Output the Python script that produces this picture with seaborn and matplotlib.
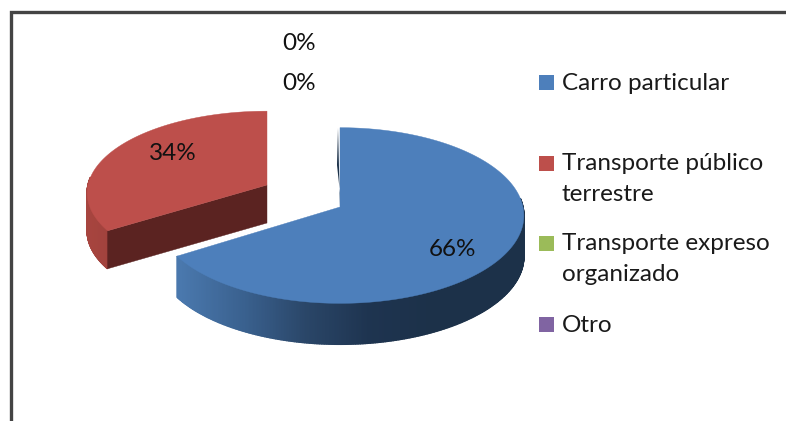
import numpy as np
import seaborn as sns
import matplotlib.pyplot as plt
from matplotlib.patches import Polygon, Rectangle

categories = ['Carro particular', 'Transporte público\nterrestre', 'Transporte expreso\norganizado', 'Otro']
values = [66, 34, 0, 0]
labels = ['66%', '34%', '0%', '0%']
label_pos = [(452, 250), (173, 153), (299, 84), (299, 44)]
legend_y = [82, 163, 243, 324]

sns.set_theme(style='white')
plt.rcParams['font.family'] = ['Lato', 'DejaVu Sans']
palette = sns.color_palette(['#4d7fbb', '#bd4f4b', '#9bbb59', '#8064a2'])
blue_wall = sns.blend_palette(['#4a78ad', '#3a618f', '#2a4668', '#1e3450', '#1c3149'], 256)
red_wall = sns.blend_palette(['#a8453f', '#a0423d'], 256)

fig = plt.figure(figsize=(7.86, 4.21), dpi=100)
ax = fig.add_axes([0, 0, 1, 1])
ax.set_xlim(0, 786)
ax.set_ylim(421, 0)
ax.axis('off')

K = 0.097


def rim(theta, apex, a, b):
    # perspective view of the unit circle, theta clockwise from 12 o'clock
    u, v = np.sin(theta), np.cos(theta)
    w = 1 + K * v
    return np.column_stack([apex[0] + b * u / w, apex[1] - a * v / w])


def draw_slice(start, end, apex, a, b, depth, color, wall_colors, wall_x, cut_color):
    th = np.linspace(start, end, 500)
    pts = rim(th, apex, a, b)
    # outer wall, strip by strip for the shading
    for i in range(len(th) - 1):
        if np.cos((th[i] + th[i + 1]) / 2) > 0.1:
            continue
        p = pts[i:i + 2]
        q = p + [0, depth]
        t = np.clip((p[:, 0].mean() - wall_x[0]) / (wall_x[1] - wall_x[0]), 0, 1)
        c = wall_colors[int(t * (len(wall_colors) - 1))]
        ax.add_patch(Polygon(np.vstack([p, q[::-1]]), fc=c, ec=c, lw=1.0, zorder=2))
    if cut_color is not None:
        cut = pts[0]
        ax.add_patch(Polygon([apex, cut, cut + [0, depth], (apex[0], apex[1] + depth)],
                             fc=cut_color, ec=cut_color, lw=0.3, zorder=3))
    ax.add_patch(Polygon(np.vstack([[apex], pts]), fc=color, ec=color, lw=0.3, zorder=4))


fracs = np.cumsum([0] + values) / sum(values) * 2 * np.pi

# inner sliver of the blue slice, seen behind its first edge
ax.add_patch(Polygon([(338, 128), (340, 207), (341.5, 207), (337, 165)], fc='#1c3149', ec='none', zorder=3))
draw_slice(fracs[0], fracs[1], (340, 207), 87, 183, 41, palette[0], blue_wall, (180, 430), None)
draw_slice(fracs[1], fracs[2], (267, 185), 81, 179, 38, palette[1], red_wall, (85, 110), '#5b2321')

for lab, (x, y) in zip(labels, label_pos):
    ax.text(x, y, lab, ha='center', va='center', fontsize=17.5, color='#111111', zorder=6)

for cat, col, y in zip(categories, palette, legend_y):
    ax.add_patch(Rectangle((539, y - 7.5), 15, 15, fc=col, ec='none', zorder=5))
    ax.text(562, y - 9.5, cat, ha='left', va='top', fontsize=17.5, color='#1a1a1a',
            linespacing=1.55, zorder=6)

# frame of the screenshot
ax.plot([786, 10.7, 10.7], [11.5, 11.5, 421], color='#444444', lw=2.4, solid_joinstyle='miter', clip_on=True)

fig.savefig('out.png', dpi=100)
